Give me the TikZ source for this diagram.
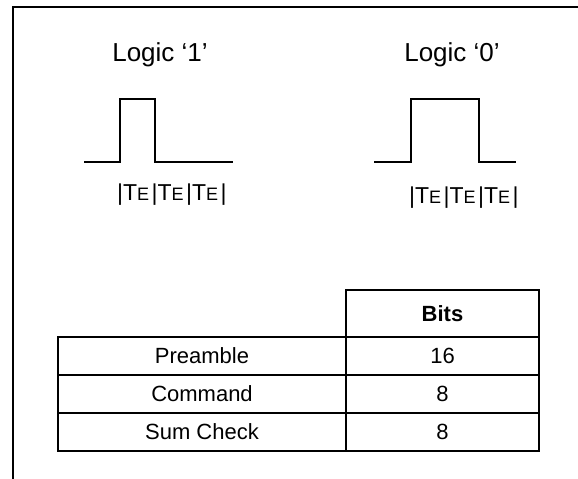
\documentclass[tikz,border=0pt]{standalone}
\usepackage{fontspec}
\setmainfont{Liberation Sans}
\usetikzlibrary{positioning}
\tikzset{node distance=0pt, auto,
  wave/.style={line width=2bp, line join=miter},
  cell/.style={draw, line width=2bp, outer sep=0pt, inner sep=0pt, minimum height=38bp,
    font=\fontsize{22bp}{26bp}\selectfont},
  leftcell/.style={cell, minimum width=288bp},
  bitcell/.style={cell, minimum width=193bp},
  logic/.style={anchor=base, font=\fontsize{26bp}{30bp}\selectfont},
  teline/.style={anchor=base west, inner sep=0pt, font=\fontsize{23bp}{26bp}\selectfont}}
\newcommand{\tesym}{T{\fontsize{18bp}{20bp}\selectfont E}}
\newcommand{\teperiod}{\makebox[34.5bp][l]{|\tesym}}

\begin{document}
\begin{tikzpicture}[x=1bp, y=-1bp]
  \useasboundingbox (0,0) rectangle (578,479);
  \draw[line width=2bp] (578,7) -- (13,7) -- (13,479);

  \node (L1)[logic] at (160,62) {Logic ‘1’};
  \node (L0)[logic] at (452,62) {Logic ‘0’};

  % pulses
  \draw[wave] (84,162) -- (120,162) -- (120,99) -- (155,99) -- (155,162) -- (233,162);
  \draw[wave] (374,162) -- (411,162) -- (411,99) -- (479,99) -- (479,162) -- (516,162);

  \node (T1)[teline] at (117,201) {\teperiod\teperiod\teperiod|};
  \node (T0)[teline] at (409,204) {\teperiod\teperiod\teperiod|};

  % table
  \node (pre)[leftcell] at (202,356) {Preamble};
  \node (preb)[bitcell, right= of pre] {16};
  \node (cmd)[leftcell, below= of pre] {Command};
  \node (cmdb)[bitcell, right= of cmd] {8};
  \node (sum)[leftcell, below= of cmd] {Sum Check};
  \node (sumb)[bitcell, right= of sum] {8};
  \node (bits)[bitcell, minimum height=47bp, above= of preb] {\bfseries Bits};

\end{tikzpicture}
\end{document}
